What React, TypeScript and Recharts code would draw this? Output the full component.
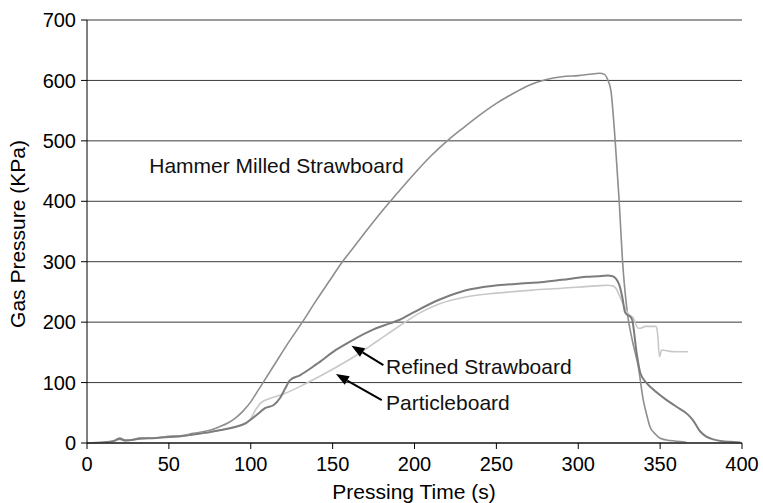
import React from "react";
import {
  CartesianGrid,
  Line,
  LineChart,
  ReferenceDot,
  ReferenceLine,
  XAxis,
  YAxis,
} from "recharts";

// pressing time (s) and gas pressure (kPa)
const hammerTime = [0, 10, 16, 20, 23, 27, 32, 40, 50, 57, 65, 75, 81, 86, 90, 95, 100, 104, 108, 115, 122, 132, 140, 148, 156, 160, 170, 180, 190, 200, 210, 220, 230, 240, 250, 260, 270, 280, 290, 300, 310, 313, 316, 318, 320, 322.5, 325, 327, 330, 333, 336.7, 339.7, 341.5, 343.8, 347, 350, 356, 364, 366];
const hammerKPa = [0, 1, 3, 8, 5, 5, 8, 8, 11, 12, 16, 21, 27, 33, 40, 52, 68, 85, 102, 132, 162, 202, 236, 268, 300, 314, 349, 383, 415, 446, 475, 500, 522, 543, 562, 578, 592, 601, 606, 608, 611, 612, 610, 601, 582, 502, 400, 303, 215, 170, 126, 71, 50, 27, 15, 8, 4, 2, 1];

const refinedTime = [0, 10, 16, 20, 23, 27, 32, 40, 50, 57, 65, 75, 81, 90, 97, 103, 109, 114, 118, 121, 124, 130, 140, 152, 162, 175, 185, 191, 200, 215, 228, 242, 255, 265, 277, 290, 305, 312, 318, 321, 323, 325, 327, 328.5, 330, 331.5, 333, 335.6, 338, 341.8, 346, 354, 360, 367, 370, 374.5, 378, 382.5, 388, 393, 399];
const refinedKPa = [0, 1, 3, 7, 4, 5, 7, 8, 10, 11, 14, 18, 21, 26, 33, 45, 58, 63, 75, 90, 104, 112, 130, 154, 170, 188, 198, 204, 217, 237, 250, 258, 262, 264, 266, 270, 275, 276, 277, 276, 272, 262, 240, 217, 212, 210, 203, 150, 115, 99, 88, 71, 60, 47, 38, 19, 11, 6, 3, 2, 1];

const particleTime = [0, 10, 16, 20, 23, 27, 32, 40, 50, 57, 65, 75, 81, 90, 97, 100, 103, 106, 112, 120, 134, 150, 165, 178, 191, 203, 215, 232, 250, 272, 290, 311, 318, 321, 323, 325, 328, 331, 333.6, 336.6, 338, 341, 345, 347.5, 348.5, 349.6, 351, 355, 360, 367];
const particleKPa = [0, 1, 3, 6, 4, 5, 7, 8, 10, 11, 14, 18, 21, 27, 32, 40, 55, 66, 74, 81, 99, 122, 146, 170, 194, 215, 230, 242, 248, 253, 256, 260, 261, 260, 256, 245, 226, 212, 207, 190, 190, 193, 193, 193, 180, 143, 154, 152, 151, 151];

const xTicks = [0, 50, 100, 150, 200, 250, 300, 350, 400];
const yTicks = [0, 100, 200, 300, 400, 500, 600, 700];

const toRows = (t: number[], p: number[]) => t.map((x, i) => ({ t: x, p: p[i] }));

const hammer = toRows(hammerTime, hammerKPa);
const refined = toRows(refinedTime, refinedKPa);
const particle = toRows(particleTime, particleKPa);

const FONT = '"Liberation Sans", Arial, Helvetica, sans-serif';

const note = (text: string) => (props: any) => (
  <text x={props.cx} y={props.cy} fontSize={21} fill="#111" fontFamily={FONT}>
    {text}
  </text>
);

const arrow = (props: any) => {
  const { x1, y1, x2, y2 } = props;
  const ang = Math.atan2(y2 - y1, x2 - x1);
  const len = 13;
  const half = 5;
  const bx = x2 - len * Math.cos(ang);
  const by = y2 - len * Math.sin(ang);
  const px = -Math.sin(ang) * half;
  const py = Math.cos(ang) * half;
  return (
    <g>
      <line x1={x1} y1={y1} x2={bx} y2={by} stroke="#000" strokeWidth={2} />
      <polygon points={`${x2},${y2} ${bx + px},${by + py} ${bx - px},${by - py}`} fill="#000" />
    </g>
  );
};

export default function App() {
  return (
    <div style={{ position: "absolute", left: 0, top: 0, fontFamily: FONT }}>
      <LineChart width={763} height={503} margin={{ top: 20, right: 21, bottom: 0, left: 0 }}>
        <CartesianGrid vertical={false} stroke="#3a3a3a" />
        <XAxis
          dataKey="t"
          type="number"
          domain={[0, 400]}
          ticks={xTicks}
          interval={0}
          height={60}
          tickSize={6}
          tickMargin={8}
          tick={{ fill: "#000", fontSize: 20 }}
          axisLine={{ stroke: "#000" }}
          tickLine={{ stroke: "#000" }}
          label={{
            content: () => (
              <text x={414} y={499} textAnchor="middle" fontSize={21} fill="#000" fontFamily={FONT}>
                Pressing Time (s)
              </text>
            ),
          }}
        />
        <YAxis
          type="number"
          domain={[0, 700]}
          ticks={yTicks}
          interval={0}
          width={87}
          tickSize={6}
          tickMargin={5}
          tick={{ fill: "#000", fontSize: 20 }}
          axisLine={{ stroke: "#000" }}
          tickLine={{ stroke: "#000" }}
          label={{
            content: () => (
              <text
                x={25}
                y={234}
                transform="rotate(-90, 25, 234)"
                textAnchor="middle"
                fontSize={21}
                fill="#000"
                fontFamily={FONT}
              >
                Gas Pressure (KPa)
              </text>
            ),
          }}
        />
        <Line data={hammer} dataKey="p" type="monotone" stroke="#8e8e8e" strokeWidth={1.6} dot={false} isAnimationActive={false} />
        <Line data={particle} dataKey="p" type="monotone" stroke="#c8c8c8" strokeWidth={1.6} dot={false} isAnimationActive={false} />
        <Line data={refined} dataKey="p" type="monotone" stroke="#7c7c7c" strokeWidth={2} dot={false} isAnimationActive={false} />
        <ReferenceDot x={38} y={447} r={0} ifOverflow="visible" shape={note("Hammer Milled Strawboard")} />
        <ReferenceDot x={182.6} y={114} r={0} ifOverflow="visible" shape={note("Refined Strawboard")} />
        <ReferenceDot x={182.6} y={55} r={0} ifOverflow="visible" shape={note("Particleboard")} />
        <ReferenceLine segment={[{ x: 181, y: 129 }, { x: 161.5, y: 161 }]} shape={arrow} ifOverflow="visible" />
        <ReferenceLine segment={[{ x: 180, y: 71 }, { x: 152, y: 114 }]} shape={arrow} ifOverflow="visible" />
      </LineChart>
    </div>
  );
}
